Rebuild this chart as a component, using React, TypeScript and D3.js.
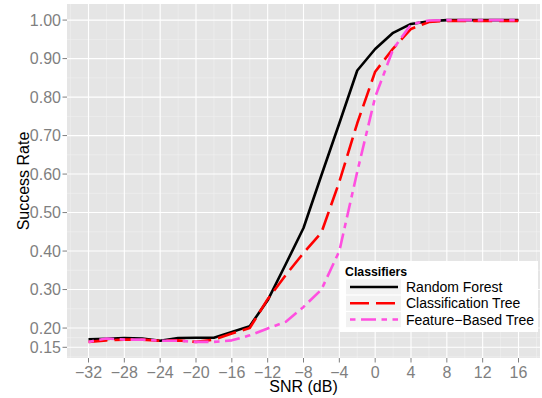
import React, { useEffect, useRef } from 'react';
import * as d3 from 'd3';

// SNR values (dB) on the x axis
const snr = [-32, -30, -28, -26, -24, -22, -20, -18, -16, -14, -12, -10, -8, -6, -4, -2, 0, 2, 4, 6, 8, 10, 12, 14, 16];
// success rate per classifier
const randomForest = [0.171, 0.172, 0.174, 0.173, 0.167, 0.174, 0.175, 0.175, 0.19, 0.205, 0.272, 0.365, 0.46, 0.597, 0.732, 0.869, 0.925, 0.967, 0.99, 0.997, 1.0, 1.0, 1.0, 1.0, 1.0];
const classificationTree = [0.164, 0.168, 0.17, 0.17, 0.167, 0.168, 0.164, 0.17, 0.186, 0.2, 0.275, 0.337, 0.395, 0.448, 0.58, 0.732, 0.866, 0.926, 0.977, 0.995, 0.998, 0.998, 0.998, 0.998, 0.998];
const featureBasedTree = [0.164, 0.173, 0.17, 0.17, 0.167, 0.167, 0.164, 0.164, 0.168, 0.181, 0.199, 0.216, 0.255, 0.3, 0.4, 0.606, 0.8, 0.924, 0.989, 0.999, 1.0, 1.0, 1.0, 1.0, 1.0];

const seriesNames = ['Random Forest', 'Classification Tree', 'Feature\u2212Based Tree'];
const xTicks = [-32, -28, -24, -20, -16, -12, -8, -4, 0, 4, 8, 12, 16];
const yTicks = [0.15, 0.2, 0.3, 0.4, 0.5, 0.6, 0.7, 0.8, 0.9, 1.0];

const width = 542;
const height = 398;
const panel = { left: 67, right: 540, top: 4, bottom: 358 };
const font = '"Liberation Sans", Arial, Helvetica, sans-serif';

const styles = [
  { color: '#000000', dash: null },
  { color: '#ff0000', dash: '19,7' },
  { color: '#ff4fe0', dash: '5.5,5.5,15,5.5' },
];

const App: React.FC = () => {
  const ref = useRef<SVGSVGElement>(null);

  useEffect(() => {
    if (!ref.current) return;
    const svg = d3.select(ref.current);
    svg.selectAll('*').remove();

    const series = [randomForest, classificationTree, featureBasedTree];
    const all = series.flat();
    const yMin = d3.min(all)!;
    const yMax = d3.max(all)!;
    const yPad = (yMax - yMin) * 0.05;
    const xPad = (d3.max(snr)! - d3.min(snr)!) * 0.05;

    const x = d3
      .scaleLinear()
      .domain([d3.min(snr)! - xPad, d3.max(snr)! + xPad])
      .range([panel.left, panel.right]);
    const y = d3
      .scaleLinear()
      .domain([yMin - yPad, yMax + yPad])
      .range([panel.bottom, panel.top]);

    // panel background
    svg
      .append('rect')
      .attr('x', panel.left)
      .attr('y', panel.top)
      .attr('width', panel.right - panel.left)
      .attr('height', panel.bottom - panel.top)
      .attr('fill', '#e5e5e5');

    // minor grid (midpoints between breaks, ggplot style)
    const xMinor = [xTicks[0] - 2, ...xTicks.map((t) => t + 2)];
    const yExt = [0.1, ...yTicks, 1.1];
    const yMinor = yExt.slice(1).map((t, i) => (t + yExt[i]) / 2);
    const [xd0, xd1] = x.domain();
    const [yd0, yd1] = y.domain();

    const grid = svg.append('g');
    grid
      .selectAll('.xminor')
      .data(xMinor.filter((t) => t > xd0 && t < xd1))
      .enter()
      .append('line')
      .attr('x1', (d) => x(d))
      .attr('x2', (d) => x(d))
      .attr('y1', panel.top)
      .attr('y2', panel.bottom)
      .attr('stroke', '#f2f2f2')
      .attr('stroke-width', 0.6);
    grid
      .selectAll('.yminor')
      .data(yMinor.filter((t) => t > yd0 && t < yd1))
      .enter()
      .append('line')
      .attr('x1', panel.left)
      .attr('x2', panel.right)
      .attr('y1', (d) => y(d))
      .attr('y2', (d) => y(d))
      .attr('stroke', '#f2f2f2')
      .attr('stroke-width', 0.6);
    grid
      .selectAll('.xmajor')
      .data(xTicks)
      .enter()
      .append('line')
      .attr('x1', (d) => x(d))
      .attr('x2', (d) => x(d))
      .attr('y1', panel.top)
      .attr('y2', panel.bottom)
      .attr('stroke', '#ffffff')
      .attr('stroke-width', 1.1);
    grid
      .selectAll('.ymajor')
      .data(yTicks)
      .enter()
      .append('line')
      .attr('x1', panel.left)
      .attr('x2', panel.right)
      .attr('y1', (d) => y(d))
      .attr('y2', (d) => y(d))
      .attr('stroke', '#ffffff')
      .attr('stroke-width', 1.1);

    // series lines
    const line = d3
      .line<number>()
      .x((_, i) => x(snr[i]))
      .y((d) => y(d));
    series.forEach((s, i) => {
      const p = svg
        .append('path')
        .attr('d', line(s))
        .attr('fill', 'none')
        .attr('stroke', styles[i].color)
        .attr('stroke-width', 2.6)
        .attr('stroke-linejoin', 'round');
      if (styles[i].dash) p.attr('stroke-dasharray', styles[i].dash);
    });

    // axes
    const axisG = svg.append('g').attr('font-family', font);
    xTicks.forEach((t) => {
      axisG
        .append('line')
        .attr('x1', x(t))
        .attr('x2', x(t))
        .attr('y1', panel.bottom)
        .attr('y2', panel.bottom + 4.5)
        .attr('stroke', '#7f7f7f')
        .attr('stroke-width', 1);
      axisG
        .append('text')
        .attr('x', x(t))
        .attr('y', 377.5)
        .attr('text-anchor', 'middle')
        .attr('font-size', 16)
        .attr('fill', '#7f7f7f')
        .text(t < 0 ? '\u2212' + Math.abs(t) : String(t));
    });
    yTicks.forEach((t) => {
      axisG
        .append('line')
        .attr('x1', panel.left - 4.5)
        .attr('x2', panel.left)
        .attr('y1', y(t))
        .attr('y2', y(t))
        .attr('stroke', '#7f7f7f')
        .attr('stroke-width', 1);
      axisG
        .append('text')
        .attr('x', panel.left - 6)
        .attr('y', y(t))
        .attr('dy', '0.36em')
        .attr('text-anchor', 'end')
        .attr('font-size', 16)
        .attr('fill', '#7f7f7f')
        .text(t.toFixed(2));
    });

    axisG
      .append('text')
      .attr('x', (panel.left + panel.right) / 2)
      .attr('y', 391.5)
      .attr('text-anchor', 'middle')
      .attr('font-size', 16)
      .attr('fill', '#000')
      .text('SNR (dB)');
    axisG
      .append('text')
      .attr('transform', `translate(28.5,${(panel.top + panel.bottom) / 2}) rotate(-90)`)
      .attr('text-anchor', 'middle')
      .attr('font-size', 16)
      .attr('fill', '#000')
      .text('Success Rate');

    // legend
    const lg = svg.append('g').attr('font-family', font);
    lg.append('rect')
      .attr('x', 340)
      .attr('y', 261)
      .attr('width', 198)
      .attr('height', 71)
      .attr('fill', '#ffffff');
    lg.append('text')
      .attr('x', 345)
      .attr('y', 275.5)
      .attr('font-size', 12.3)
      .attr('font-weight', 'bold')
      .attr('fill', '#000')
      .text('Classifiers');
    const rowH = 16.3;
    seriesNames.forEach((name, i) => {
      const top = 278.8 + i * rowH;
      const cy = top + rowH / 2;
      lg.append('rect')
        .attr('x', 345.5)
        .attr('y', top)
        .attr('width', 56)
        .attr('height', rowH)
        .attr('fill', '#f2f2f2')
        .attr('stroke', '#ffffff')
        .attr('stroke-width', 1);
      const l = lg
        .append('line')
        .attr('x1', 350)
        .attr('x2', 398)
        .attr('y1', cy)
        .attr('y2', cy)
        .attr('stroke', styles[i].color)
        .attr('stroke-width', 2.6);
      if (styles[i].dash) l.attr('stroke-dasharray', styles[i].dash);
      lg.append('text')
        .attr('x', 406)
        .attr('y', cy)
        .attr('dy', '0.36em')
        .attr('font-size', 14)
        .attr('fill', '#000')
        .text(name);
    });
  }, []);

  return (
    <div style={{ position: 'absolute', left: 0, top: 0 }}>
      <svg ref={ref} width={width} height={height} style={{ display: 'block', background: '#fff' }} />
    </div>
  );
};

export default App;
